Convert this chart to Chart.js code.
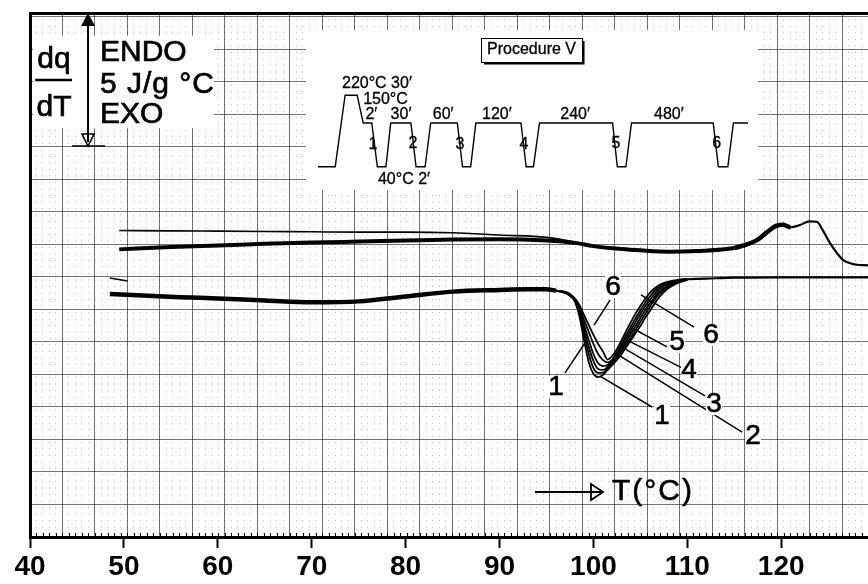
<!DOCTYPE html>
<html>
<head>
<meta charset="utf-8">
<script src="https://cdn.jsdelivr.net/npm/chart.js@4.4.0/dist/chart.umd.min.js"></script>
<style>
  html, body { margin: 0; padding: 0; background: #fff; }
  canvas { display: block; }
</style>
</head>
<body>
<canvas id="dsc" width="868" height="584"></canvas>
<script>
const FONT = "'Liberation Sans', Arial, Helvetica, sans-serif";

// ─── Eixo de temperatura (°C) ─────────────────────────────
const T_MIN = 40, T_MAX = 129.24;
const tempTicks = [40, 50, 60, 70, 80, 90, 100, 110, 120];

// papel milimetrado: divisões maiores (dq/dT em divisões do papel)
const PAPER_W = 25.785, PAPER_H = 16.123;

// ─── Curvas inferiores (picos de fusão 1..6) ──────────────
const lowLeftT  = [48.5, 52, 56, 60, 65, 70, 75, 80, 85, 90, 93, 95, 96];
const lowLeftY  = [7.48, 7.43, 7.38, 7.34, 7.28, 7.22, 7.25, 7.40, 7.55, 7.60, 7.62, 7.62, 7.58];
const lowStartT = [48.5, 50.4];
const lowStartY = [7.97, 7.88];

const peakT = [96, 97, 97.5, 98, 98.5, 99, 99.5, 100, 100.5, 101, 101.5, 102,
               102.5, 103, 103.5, 104, 104.5, 105, 105.5, 106, 107, 108, 109, 110];
const peak1 = [7.58, 7.51, 7.42, 7.26, 6.80, 6.06, 5.38, 5.02, 4.92, 4.98, 5.14, 5.29,
               5.45, 5.63, 5.85, 6.06, 6.28, 6.49, 6.74, 6.95, 7.38, 7.66, 7.82, 7.91];
const peak2 = [7.58, 7.51, 7.43, 7.28, 6.89, 6.25, 5.63, 5.20, 5.05, 5.05, 5.20, 5.32,
               5.51, 5.72, 5.94, 6.15, 6.38, 6.62, 6.85, 7.08, 7.48, 7.71, 7.85, 7.92];
const peak3 = [7.58, 7.52, 7.45, 7.29, 6.95, 6.40, 5.85, 5.42, 5.17, 5.14, 5.23, 5.37,
               5.57, 5.80, 6.03, 6.26, 6.49, 6.74, 6.97, 7.18, 7.55, 7.75, 7.86, 7.92];
const peak4 = [7.58, 7.52, 7.45, 7.31, 7.02, 6.52, 6.06, 5.63, 5.35, 5.26, 5.29, 5.42,
               5.63, 5.88, 6.12, 6.37, 6.62, 6.86, 7.09, 7.29, 7.63, 7.80, 7.88, 7.92];
const peak5 = [7.58, 7.54, 7.46, 7.32, 7.08, 6.68, 6.31, 5.94, 5.63, 5.45, 5.37, 5.46,
               5.69, 5.95, 6.22, 6.48, 6.74, 6.98, 7.20, 7.40, 7.69, 7.83, 7.89, 7.94];
const peak6 = [7.58, 7.54, 7.48, 7.35, 7.14, 6.83, 6.52, 6.22, 5.94, 5.72, 5.46, 5.57,
               5.78, 6.06, 6.34, 6.62, 6.88, 7.11, 7.32, 7.51, 7.75, 7.86, 7.91, 7.94];

const lowRightT = [110, 112, 115, 120, 125, 129.24];
const lowRightY = [7.93, 7.95, 7.98, 7.99, 7.99, 7.99];

// ─── Curvas superiores ────────────────────────────────────
const upThinT = [49.5, 55, 60, 65, 70, 75, 80, 85, 90, 95, 98, 100, 103];
const upThinY = [9.43, 9.42, 9.41, 9.40, 9.39, 9.38, 9.38, 9.36, 9.29, 9.22, 9.08, 8.97, 8.86];
const upT = [49.5, 55, 60, 65, 70, 75, 80, 85, 90, 95, 98, 100, 103, 105, 108, 111,
             115, 116, 117.5, 118.5, 119.5, 120.2, 121, 122, 123, 123.8, 124.4, 125.2,
             126, 126.6, 127.6, 129.24];
const upY = [8.85, 8.92, 8.97, 9.02, 9.06, 9.09, 9.12, 9.15, 9.16, 9.12, 9.05, 8.95, 8.86,
             8.82, 8.78, 8.80, 8.89, 8.97, 9.15, 9.38, 9.58, 9.61, 9.53, 9.60, 9.71, 9.70,
             9.45, 9.04, 8.71, 8.52, 8.40, 8.36];

// ─── Inset: programa de temperatura (Procedure V) ─────────
const progTime = [0, 4, 6.3, 9.1, 10.5, 12.5, 13.8, 15.8, 16.9, 21.6, 22.8, 24.9, 26.2, 32.4,
                  33.6, 35.5, 36.7, 47.2, 48.4, 50.1, 51.5, 68.5, 69.6, 71.6, 72.9, 91.9,
                  93.1, 95.3, 96.6, 100];
const progTemp = [40, 40, 220, 220, 150, 150, 40, 40, 150, 150, 40, 40, 150, 150,
                  40, 40, 150, 150, 40, 40, 150, 150, 40, 40, 150, 150, 40, 40, 150, 150];

const pts = (xs, ys) => xs.map((x, i) => ({ x, y: ys[i] }));

function trace(xs, ys, width, extra) {
  return Object.assign({
    data: pts(xs, ys), borderColor: '#000', borderWidth: width,
    pointRadius: 0, fill: false, cubicInterpolationMode: 'monotone',
    xAxisID: 'x', yAxisID: 'y',
  }, extra || {});
}

const datasets = [
  trace(lowLeftT, lowLeftY, 4.5),
  trace(lowStartT, lowStartY, 1.5, { cubicInterpolationMode: 'default', tension: 0 }),
  trace(peakT, peak1, 1.8),
  trace(peakT, peak2, 1.8),
  trace(peakT, peak3, 1.8),
  trace(peakT, peak4, 1.8),
  trace(peakT, peak5, 1.8),
  trace(peakT, peak6, 1.8),
  trace(lowRightT, lowRightY, 2.2),
  trace(upThinT, upThinY, 1.6),
  trace(upT, upY, 4, {
    segment: { borderWidth: c => c.p0.parsed.x < 112 ? 4 : (c.p0.parsed.x < 120.5 ? 4.5 : 2.2) },
  }),
  {
    data: pts(progTime, progTemp), borderColor: '#000', borderWidth: 1.4,
    pointRadius: 0, fill: false, tension: 0, xAxisID: 'xi', yAxisID: 'yi',
  },
];

// ─── Anotações (rótulos, linhas guia, escala) ─────────────
const peakLabels = [
  ['6', 102.09, 7.69], ['1', 96.02, 4.62], ['6', 112.52, 6.22], ['5', 108.90, 6.00],
  ['4', 110.18, 5.14], ['3', 112.84, 4.09], ['2', 117.0, 3.11], ['1', 107.31, 3.72],
];
const leaders = [
  [96.97, 5.05, 99.10, 5.97], [101.77, 7.29, 100.06, 6.52], [100.70, 4.95, 106.24, 4.00],
  [102.51, 5.63, 115.83, 3.23], [102.83, 5.88, 111.88, 4.34], [103.58, 6.06, 109.86, 5.14],
  [104.11, 6.43, 107.84, 5.85], [105.06, 7.45, 110.72, 6.46],
];
const insetLabels = [
  ['220°C 30′', 13.7, 248, 'center'], ['150°C', 10.5, 208, 'left'], ['2′', 12.4, 170, 'center'],
  ['30′', 19.3, 170, 'center'], ['60′', 29.1, 170, 'center'], ['120′', 41.6, 170, 'center'],
  ['240′', 59.8, 170, 'center'], ['480′', 81.6, 170, 'center'],
  ['1', 12.8, 95, 'center'], ['2', 22.1, 97, 'center'], ['3', 33.0, 95, 'center'],
  ['4', 47.9, 95, 'center'], ['5', 69.3, 97, 'center'], ['6', 92.7, 99, 'center'],
  ['40°C 2′', 20.0, 7, 'center'],
];

// texto com leve contorno, imitando a impressão original
function txt(ctx, s, x, y, size, align, spacing, heavy) {
  ctx.font = size + 'px ' + FONT;
  ctx.textAlign = align || 'center';
  ctx.textBaseline = 'middle';
  ctx.letterSpacing = spacing || '0px';
  ctx.fillText(s, x, y);
  if (heavy) { ctx.lineWidth = heavy; ctx.strokeText(s, x, y); }
  ctx.letterSpacing = '0px';
}

const sketch = {
  id: 'sketch',
  beforeDatasetsDraw(chart) {
    const { ctx } = chart;
    const X = v => chart.scales.x.getPixelForValue(v), Y = v => chart.scales.y.getPixelForValue(v);
    const XI = v => chart.scales.xi.getPixelForValue(v), YI = v => chart.scales.yi.getPixelForValue(v);
    ctx.save();
    ctx.fillStyle = '#fff';
    // fundo branco do inset e do bloco dq/dT
    ctx.fillRect(XI(-2.8), YI(384), XI(102.4) - XI(-2.8), YI(-18.6) - YI(384));
    ctx.fillRect(X(40.35), Y(15.42), X(59.6) - X(40.35), Y(12.58) - Y(15.42));
    // marcas de milímetro sobre o eixo
    const xm = chart.scales.xm, bottom = chart.chartArea.bottom;
    ctx.strokeStyle = '#000'; ctx.lineWidth = 1;
    xm.ticks.forEach(t => {
      const p = Math.round(xm.getPixelForValue(t.value)) + 0.5;
      ctx.beginPath(); ctx.moveTo(p, bottom); ctx.lineTo(p, bottom - 4); ctx.stroke();
    });
    ctx.restore();
  },
  afterDatasetsDraw(chart) {
    const { ctx } = chart;
    const X = v => chart.scales.x.getPixelForValue(v), Y = v => chart.scales.y.getPixelForValue(v);
    const XI = v => chart.scales.xi.getPixelForValue(v), YI = v => chart.scales.yi.getPixelForValue(v);
    ctx.save();
    ctx.strokeStyle = '#000'; ctx.fillStyle = '#000';

    // linhas guia dos rótulos
    ctx.lineWidth = 1.5;
    leaders.forEach(([x0, y0, x1, y1]) => {
      ctx.beginPath(); ctx.moveTo(X(x0), Y(y0)); ctx.lineTo(X(x1), Y(y1)); ctx.stroke();
    });
    peakLabels.forEach(([s, t, v]) => {
      ctx.fillStyle = '#fff';
      ctx.fillRect(X(t) - 8, Y(v) - 11, 16, 22);
      ctx.fillStyle = '#000';
      txt(ctx, s, X(t), Y(v), 28, 'center', '0px', 0.6);
    });

    // seta T(°C)
    const ay = Y(1.385), ax0 = X(93.78), ax1 = X(101.02);
    ctx.lineWidth = 1.8;
    ctx.beginPath(); ctx.moveTo(ax0, ay); ctx.lineTo(ax1 - 2, ay); ctx.stroke();
    ctx.beginPath(); ctx.moveTo(ax1 - 12, ay - 8); ctx.lineTo(ax1, ay); ctx.lineTo(ax1 - 12, ay + 8);
    ctx.closePath(); ctx.stroke();
    txt(ctx, 'T(°C)', X(101.98), ay, 30, 'left', '2px', 0.6);

    // escala dq/dT: 5 J/g °C
    const sx = X(46.18), sTop = chart.chartArea.top, sBot = Y(12.03);
    ctx.lineWidth = 2;
    ctx.beginPath(); ctx.moveTo(sx, sTop + 8); ctx.lineTo(sx, sBot - 4); ctx.stroke();
    ctx.beginPath(); ctx.moveTo(sx, sTop); ctx.lineTo(sx - 7, sTop + 13); ctx.lineTo(sx + 7, sTop + 13);
    ctx.closePath(); ctx.fill();
    ctx.lineWidth = 1.6;
    ctx.beginPath(); ctx.moveTo(sx, sBot); ctx.lineTo(sx - 6, sBot - 12); ctx.lineTo(sx + 6, sBot - 12);
    ctx.closePath(); ctx.stroke();
    ctx.beginPath(); ctx.moveTo(X(44.47), sBot); ctx.lineTo(X(47.99), sBot); ctx.stroke();

    txt(ctx, 'dq', X(42.56), Y(14.68), 30, 'center', '0px', 0.7);
    ctx.lineWidth = 2.4;
    ctx.beginPath(); ctx.moveTo(X(40.55), Y(14.06)); ctx.lineTo(X(44.47), Y(14.06)); ctx.stroke();
    txt(ctx, 'dT', X(42.56), Y(13.22), 30, 'center', '0px', 0.7);
    txt(ctx, 'ENDO', X(47.45), Y(14.89), 30, 'left', '0px', 0.7);
    txt(ctx, '5 J/g °C', X(47.45), Y(13.92), 30, 'left', '1px', 0.7);
    txt(ctx, 'EXO', X(47.45), Y(12.98), 30, 'left', '0px', 0.7);

    // inset: caixa e textos
    const bl = XI(37.9), bt = YI(364), br = XI(61.4), bb = YI(303.6);
    ctx.lineWidth = 1;
    ctx.strokeRect(Math.round(bl) + 0.5, Math.round(bt) + 0.5, Math.round(br - bl), Math.round(bb - bt));
    ctx.lineWidth = 2;
    ctx.beginPath(); ctx.moveTo(br + 1.5, bt + 3); ctx.lineTo(br + 1.5, bb + 1.5); ctx.lineTo(bl + 3, bb + 1.5); ctx.stroke();
    txt(ctx, 'Procedure V', (bl + br) / 2, YI(333.8), 16, 'center', '0px', 0.3);
    insetLabels.forEach(([s, u, v, al]) => txt(ctx, s, XI(u), YI(v), 16, al, '0px', 0.3));
    ctx.restore();
  },
};

const hiddenFit = h => s => { if (s.isHorizontal()) s.height = h; else s.width = h; };

new Chart(document.getElementById('dsc'), {
  type: 'line',
  data: { datasets },
  options: {
    responsive: false,
    animation: false,
    devicePixelRatio: 1,
    layout: { padding: { left: 30, top: 13, right: 0, bottom: 0 } },
    plugins: { legend: { display: false }, tooltip: { enabled: false } },
    scales: {
      x: {
        type: 'linear', position: 'bottom', min: T_MIN, max: T_MAX,
        afterFit: hiddenFit(47),
        afterBuildTicks: s => { s.ticks = tempTicks.map(v => ({ value: v })); },
        ticks: { font: { family: FONT, size: 28, weight: 'bold' }, color: '#000', padding: 2, maxRotation: 0, autoSkip: false },
        grid: { drawOnChartArea: false, drawTicks: true, tickLength: 11, tickWidth: 2, tickColor: '#000' },
        border: { display: true, width: 3, color: '#000' },
      },
      y: {
        type: 'linear', position: 'left', min: 0, max: PAPER_H,
        afterFit: hiddenFit(0),
        ticks: { display: false, stepSize: 1, includeBounds: false },
        grid: { color: 'rgba(0,0,0,0.55)', lineWidth: 1, drawTicks: false },
        border: { display: true, width: 3, color: '#000' },
      },
      xtop: {
        axis: 'x', type: 'linear', position: 'top', min: 0, max: 1,
        afterFit: hiddenFit(0),
        ticks: { display: false }, grid: { display: false },
        border: { display: true, width: 3, color: '#000' },
      },
      xg: {
        axis: 'x', type: 'linear', position: 'bottom', min: 0, max: PAPER_W,
        afterFit: hiddenFit(0),
        ticks: { display: false, stepSize: 1, includeBounds: false },
        grid: { color: 'rgba(0,0,0,0.55)', lineWidth: 1, drawTicks: false },
        border: { display: false },
      },
      xm: {
        axis: 'x', type: 'linear', position: 'bottom', min: 0, max: PAPER_W,
        afterFit: hiddenFit(0),
        ticks: { display: false, stepSize: 0.2, includeBounds: false },
        grid: { color: 'rgba(0,0,0,0.28)', lineWidth: 1, drawTicks: false },
        border: { display: false, dash: [1, 5.5] },
      },
      xi: { type: 'linear', display: false, min: -66.98, max: 127.9 },
      yi: { type: 'linear', display: false, min: -892.0, max: 426.9 },
    },
  },
  plugins: [sketch],
});
</script>
</body>
</html>
